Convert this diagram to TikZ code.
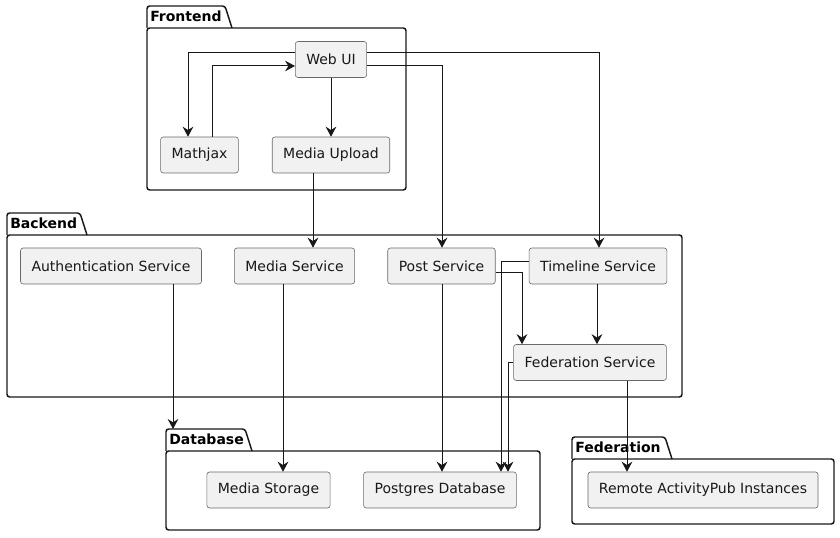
\documentclass[tikz,border=0pt]{standalone}
\usepackage{fontspec}
\setmainfont{DejaVu Sans}
\usetikzlibrary{arrows.meta}
\definecolor{boxfill}{HTML}{F1F1F1}
\definecolor{umlline}{HTML}{181818}

\begin{document}
\begin{tikzpicture}[x=0.75pt,y=-0.75pt,
component/.style={draw=umlline!65,line width=0.45pt,fill=boxfill,rounded corners=2pt,minimum height=27pt,inner xsep=8.25pt,font=\fontsize{10.5}{12}\selectfont,text=umlline},
package/.style={draw=umlline,line width=1.1pt,rounded corners=2pt},
pkglabel/.style={anchor=west,inner sep=0pt,font=\fontsize{10.5}{12}\selectfont\bfseries,text=black},
link/.style={draw=umlline,line width=0.75pt,-{Stealth[length=7.5pt,width=8pt,inset=2.5pt]}}]
\useasboundingbox (0,0) rectangle (840,538);
\draw[package] (147,28) -- (147,6) -- (225,6) -- (232,28);
\draw[package] (147,28) rectangle (406,190);
\node[pkglabel] (frontendlbl) at (150,16.5) {Frontend};
\draw[package] (7,235) -- (7,213) -- (80,213) -- (87,235);
\draw[package] (7,235) rectangle (682,397);
\node[pkglabel] (backendlbl) at (10,223.5) {Backend};
\draw[package] (166,451) -- (166,429) -- (245,429) -- (252,451);
\draw[package] (166,451) rectangle (540,530);
\node[pkglabel] (databaselbl) at (169,439.5) {Database};
\coordinate (dbpkg) at (173,429);
\draw[package] (572,459) -- (572,437) -- (665,437) -- (672,459);
\draw[package] (572,459) rectangle (834,524);
\node[pkglabel] (federationlbl) at (575,447.5) {Federation};
\node[component] (webui) at (331,59.5) {Web UI};
\node[component] (mathjax) at (199.5,155) {Mathjax};
\node[component] (mediaupload) at (331,155) {Media Upload};
\node[component] (auth) at (111,266) {Authentication Service};
\node[component] (mediasvc) at (294.5,266) {Media Service};
\node[component] (post) at (441.5,266) {Post Service};
\node[component] (timeline) at (598,266) {Timeline Service};
\node[component] (fedsvc) at (590,362.5) {Federation Service};
\node[component] (storage) at (268.5,490) {Media Storage};
\node[component] (postgres) at (440,490) {Postgres Database};
\node[component] (remote) at (703,490) {Remote ActivityPub Instances};
\draw[link] (webui.west |- 0,53) -| (188,0 |- mathjax.north);
\draw[link] (212,0 |- mathjax.north) |- (webui.west |- 0,66);
\draw[link] (webui) -- (mediaupload);
\draw[link] (webui.east |- 0,53) -| (599,0 |- timeline.north);
\draw[link] (webui.east |- 0,66) -| (442,0 |- post.north);
\draw[link] (313,0 |- mediaupload.south) -- (313,0 |- mediasvc.north);
\draw[link] (173,0 |- auth.south) -- (dbpkg);
\draw[link] (283,0 |- mediasvc.south) -- (283,0 |- storage.north);
\draw[link] (442,0 |- post.south) -- (442,0 |- postgres.north);
\draw[link] (post.east |- 0,273) -| (522,0 |- fedsvc.north);
\draw[link] (timeline.west |- 0,262) -| (501,0 |- postgres.north);
\draw[link] (fedsvc.west |- 0,363) -| (508,0 |- postgres.north);
\draw[link] (597,0 |- timeline.south) -- (597,0 |- fedsvc.north);
\draw[link] (627,0 |- fedsvc.south) -- (627,0 |- remote.north);
\end{tikzpicture}
\end{document}
